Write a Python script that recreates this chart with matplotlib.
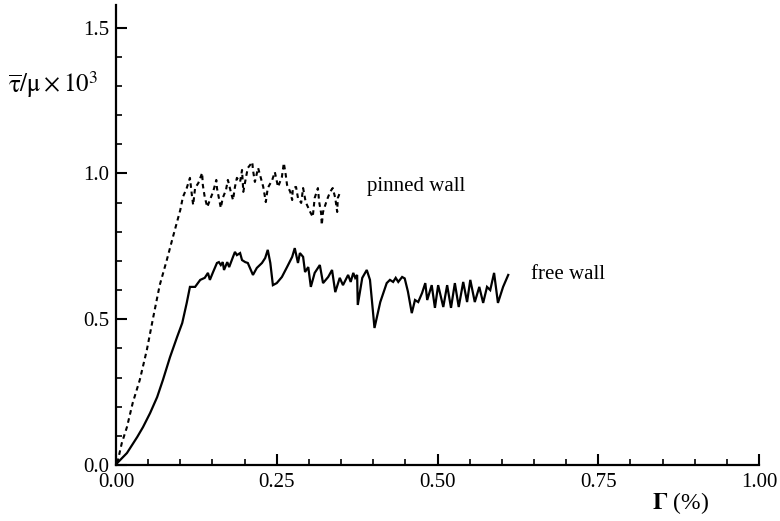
import matplotlib
matplotlib.use("Agg")
import matplotlib.pyplot as plt
from matplotlib.ticker import MultipleLocator, FixedLocator

plt.rcParams['font.family'] = ['Liberation Serif', 'DejaVu Serif']
plt.rcParams['mathtext.fontset'] = 'stix'

# free wall (solid)
free_x = [0.002, 0.017, 0.033, 0.042, 0.053, 0.064, 0.073, 0.084, 0.095, 0.103, 0.110, 0.115,
          0.123, 0.131, 0.138, 0.143, 0.146, 0.151, 0.157, 0.160, 0.163, 0.166, 0.168, 0.173,
          0.176, 0.182, 0.185, 0.188, 0.193, 0.196, 0.201, 0.205, 0.213, 0.219, 0.227, 0.232,
          0.236, 0.240, 0.244, 0.250, 0.258, 0.266, 0.274, 0.278, 0.283, 0.286, 0.291, 0.294,
          0.299, 0.303, 0.309, 0.317, 0.322, 0.330, 0.336, 0.341, 0.348, 0.353, 0.361, 0.365,
          0.369, 0.372, 0.375, 0.376, 0.383, 0.390, 0.395, 0.402, 0.411, 0.421, 0.426, 0.431,
          0.435, 0.439, 0.445, 0.449, 0.454, 0.460, 0.465, 0.470, 0.476, 0.481, 0.484, 0.491,
          0.496, 0.501, 0.509, 0.515, 0.521, 0.527, 0.533, 0.540, 0.546, 0.551, 0.558, 0.565,
          0.571, 0.577, 0.582, 0.588, 0.594, 0.602, 0.610]
free_y = [0.007, 0.041, 0.096, 0.130, 0.178, 0.233, 0.292, 0.370, 0.439, 0.487, 0.556, 0.611,
          0.611, 0.635, 0.642, 0.659, 0.635, 0.662, 0.693, 0.696, 0.686, 0.696, 0.669, 0.696,
          0.679, 0.714, 0.731, 0.720, 0.727, 0.703, 0.696, 0.693, 0.652, 0.676, 0.693, 0.710,
          0.738, 0.693, 0.617, 0.624, 0.645, 0.679, 0.714, 0.744, 0.693, 0.727, 0.714, 0.662,
          0.679, 0.611, 0.659, 0.686, 0.624, 0.645, 0.669, 0.593, 0.642, 0.617, 0.652, 0.628,
          0.659, 0.642, 0.652, 0.549, 0.642, 0.669, 0.635, 0.470, 0.559, 0.624, 0.635, 0.628,
          0.642, 0.628, 0.645, 0.640, 0.595, 0.521, 0.566, 0.559, 0.590, 0.624, 0.566, 0.617,
          0.539, 0.617, 0.542, 0.617, 0.539, 0.624, 0.542, 0.628, 0.559, 0.635, 0.559, 0.611,
          0.556, 0.611, 0.600, 0.659, 0.556, 0.611, 0.652]

# pinned wall (dashed)
pin_x = [0.002, 0.009, 0.017, 0.026, 0.037, 0.048, 0.058, 0.068, 0.079, 0.089, 0.100, 0.104,
         0.110, 0.115, 0.118, 0.120, 0.123, 0.128, 0.134, 0.135, 0.138, 0.142, 0.146, 0.151,
         0.156, 0.157, 0.160, 0.163, 0.166, 0.171, 0.174, 0.179, 0.182, 0.185, 0.188, 0.193,
         0.196, 0.198, 0.202, 0.205, 0.212, 0.213, 0.216, 0.221, 0.224, 0.229, 0.233, 0.236,
         0.243, 0.247, 0.252, 0.258, 0.261, 0.264, 0.266, 0.271, 0.274, 0.275, 0.280, 0.283,
         0.288, 0.291, 0.295, 0.302, 0.306, 0.309, 0.314, 0.316, 0.319, 0.320, 0.322, 0.328,
         0.333, 0.337, 0.341, 0.344, 0.345, 0.348]
pin_y = [0.007, 0.075, 0.130, 0.213, 0.292, 0.395, 0.508, 0.617, 0.703, 0.786, 0.875, 0.919,
         0.950, 0.985, 0.926, 0.892, 0.950, 0.967, 1.002, 0.961, 0.919, 0.885, 0.909, 0.937,
         0.978, 0.950, 0.916, 0.882, 0.916, 0.943, 0.978, 0.933, 0.909, 0.954, 0.985, 0.971,
         1.012, 0.937, 0.985, 1.019, 1.039, 1.012, 0.971, 1.019, 0.995, 0.954, 0.902, 0.950,
         0.978, 1.005, 0.954, 0.988, 1.036, 0.995, 0.961, 0.937, 0.909, 0.950, 0.954, 0.916,
         0.899, 0.950, 0.902, 0.868, 0.851, 0.916, 0.950, 0.902, 0.864, 0.823, 0.868, 0.909,
         0.937, 0.950, 0.916, 0.868, 0.916, 0.933]

x_ticks = [0.0, 0.25, 0.5, 0.75, 1.0]
x_ticklabels = ['0.00', '0.25', '0.50', '0.75', '1.00']
y_ticks = [0.0, 0.5, 1.0, 1.5]
y_ticklabels = ['0.0', '0.5', '1.0', '1.5']

fig = plt.figure(figsize=(7.8, 5.21), dpi=100)
ax = fig.add_axes([116/780, 56/521, (759-116)/780, (465-5)/521])

ax.plot(free_x, free_y, color='black', lw=1.6, solid_joinstyle='miter')
ax.plot(pin_x, pin_y, color='black', lw=1.5, linestyle=(0, (2.2, 1.8)))

ax.set_xlim(0, 1.0)
ax.set_ylim(0, 1.578)
ax.spines['top'].set_visible(False)
ax.spines['right'].set_visible(False)
for s in ('left', 'bottom'):
    ax.spines[s].set_linewidth(1.6)

ax.xaxis.set_major_locator(FixedLocator(x_ticks))
ax.set_xticklabels(x_ticklabels)
ax.yaxis.set_major_locator(FixedLocator(y_ticks))
ax.set_yticklabels(y_ticklabels)
ax.xaxis.set_minor_locator(MultipleLocator(0.05))
ax.yaxis.set_minor_locator(MultipleLocator(0.1))
ax.tick_params(which='major', direction='in', length=8, width=1.5, labelsize=15)
ax.tick_params(which='minor', direction='in', length=4, width=1.2)
ax.tick_params(axis='x', which='major', pad=6)
ax.tick_params(axis='y', which='major', pad=5)

ax.text(0.390, 0.954, 'pinned wall', fontsize=15, ha='left', va='center')
ax.text(0.645, 0.652, 'free wall', fontsize=15, ha='left', va='center')

fig.text(8/780, 1 - 85/521, r'$\overline{\mathrm{\tau}}/\mathrm{\mu} \times 10^3$', fontsize=18,
         ha='left', va='center')
fig.text(652/780, 1 - 503/521, r'$\mathbf{\Gamma}$ (%)', fontsize=17,
         ha='left', va='center')

fig.savefig('out.png', dpi=100)
